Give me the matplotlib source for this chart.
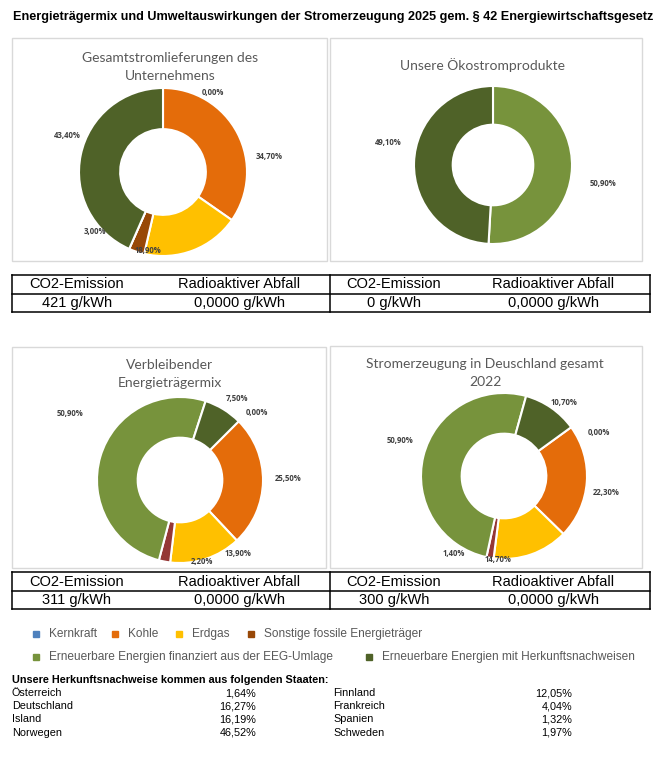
import matplotlib
matplotlib.use("Agg")
import matplotlib.pyplot as plt
from matplotlib.patches import Rectangle

W, H = 663, 757

# --- data ---
categories = ["Kernkraft", "Kohle", "Erdgas", "Sonstige fossile Energieträger",
              "Erneuerbare Energien finanziert aus der EEG-Umlage",
              "Erneuerbare Energien mit Herkunftsnachweisen"]
colors = ["#4F81BD", "#E46C0A", "#FFC000", "#984807", "#77933C", "#4F6228"]

chart_titles = ["Gesamtstromlieferungen des\nUnternehmens",
                "Unsere Ökostromprodukte",
                "Verbleibender\nEnergieträgermix",
                "Stromerzeugung in Deuschland gesamt\n2022"]
mix_unternehmen = [0.00, 34.70, 18.90, 3.00, 0.00, 43.40]
mix_oeko = [0.00, 0.00, 0.00, 0.00, 50.90, 49.10]
mix_verbleibend = [0.00, 25.50, 13.90, 2.20, 50.90, 7.50]
mix_deutschland = [0.00, 22.30, 14.70, 1.40, 50.90, 10.70]

co2_emission = ["421 g/kWh", "0 g/kWh", "311 g/kWh", "300 g/kWh"]
radioaktiv = ["0,0000 g/kWh", "0,0000 g/kWh", "0,0000 g/kWh", "0,0000 g/kWh"]

hkn_countries_1 = ["Österreich", "Deutschland", "Island", "Norwegen"]
hkn_shares_1 = ["1,64%", "16,27%", "16,19%", "46,52%"]
hkn_countries_2 = ["Finnland", "Frankreich", "Spanien", "Schweden"]
hkn_shares_2 = ["12,05%", "4,04%", "1,32%", "1,97%"]

# --- layout (pixels) ---
fig = plt.figure(figsize=(W / 100, H / 100), dpi=100)
bg = fig.add_axes([0, 0, 1, 1])
bg.set_xlim(0, W)
bg.set_ylim(H, 0)
bg.axis("off")

arial = ["Liberation Sans", "DejaVu Sans"]
calibri = ["Lato", "DejaVu Sans"]
label_font = ["Open Sans", "DejaVu Sans"]

bg.text(13, 17, "Energieträgermix und Umweltauswirkungen der Stromerzeugung 2025 gem. § 42 Energiewirtschaftsgesetz",
        family=arial, fontsize=9.1, weight="bold", va="center", ha="left")

panels = [(12, 38, 315, 223), (330, 38, 312, 223), (12, 347, 314, 221), (330, 346, 312, 222)]
for x, y, w, h in panels:
    bg.add_patch(Rectangle((x, y), w, h, fill=False, ec="#D9D9D9", lw=1))

title_pos = [(170, 67), (483, 65), (170, 374), (485, 373)]
for (tx, ty), t in zip(title_pos, chart_titles):
    bg.text(tx, ty, t, family=calibri, fontsize=10, color="#595959",
            ha="center", va="center", linespacing=1.55)

# tables
for top in (275, 572):
    rows = [top, top + 18.5, top + 37]
    for ry in rows:
        bg.plot([12, 650], [ry, ry], color="black", lw=1.1)
    for vx in (12, 330, 650):
        bg.plot([vx, vx], [top, top + 37], color="black", lw=1.1)

col_x = [(77, 239), (394, 553)]
for i, top in enumerate((275, 572)):
    for j in range(2):
        k = i * 2 + j
        cx1, cx2 = col_x[j]
        bg.text(cx1, top + 9.5, "CO2-Emission", family=arial, fontsize=10.5, ha="center", va="center")
        bg.text(cx2, top + 9.5, "Radioaktiver Abfall", family=arial, fontsize=10.5, ha="center", va="center")
        bg.text(cx1, top + 28, co2_emission[k], family=arial, fontsize=10.5, ha="center", va="center")
        bg.text(cx2, top + 28, radioaktiv[k], family=arial, fontsize=10.5, ha="center", va="center")


def pct(v):
    return f"{v:.2f}".replace(".", ",") + "%"


def donut(cx, cy, R, values, start_from_top, label_pos, cols):
    ax = fig.add_axes([(cx - R) / W, 1 - (cy + R) / H, 2 * R / W, 2 * R / H])
    ax.pie(values, colors=cols, startangle=90 - start_from_top, counterclock=False,
           radius=1, wedgeprops=dict(width=0.49, edgecolor="white", linewidth=1.5))
    ax.set_xlim(-1, 1)
    ax.set_ylim(-1, 1)
    ax.axis("off")
    for v, p in zip(values, label_pos):
        if p is None:
            continue
        ax.text(p[0], p[1], pct(v), family=label_font, fontsize=5.6, weight="bold",
                color="#404040", ha="center", va="center", clip_on=False)


# label positions in units of the outer radius
lp1 = [(0.60, 0.95), (1.26, 0.18), (-0.18, -0.94), (-0.81, -0.71), None, (-1.14, 0.44)]
lp2 = [None, None, None, None, (1.39, -0.24), (-1.32, 0.29)]
lp3 = [(0.93, 0.81), (1.30, 0.02), (0.70, -0.88), (0.27, -0.98), (-1.33, 0.80), (0.69, 0.98)]
lp4 = [(1.14, 0.53), (1.23, -0.20), (-0.07, -1.01), (-0.60, -0.93), (-1.25, 0.43), (0.72, 0.88)]

cols_red = colors[:3] + ["#953735"] + colors[4:]
donut(163, 172, 84, mix_unternehmen, 0, lp1, colors)
donut(493, 165, 79, mix_oeko, 0, lp2, colors)
donut(180, 480, 83, mix_verbleibend, 45, lp3, cols_red)
donut(504, 476, 83, mix_deutschland, 54, lp4, cols_red)

# legend
legend_pos = [(36, 634), (115, 634), (179, 634), (251, 634), (36, 657), (369, 657)]
for (lx, ly), name, c in zip(legend_pos, categories, colors):
    bg.add_patch(Rectangle((lx - 3, ly - 3), 6, 6, color=c))
    bg.text(lx + 13, ly, name, family=arial, fontsize=8.6, color="#595959", ha="left", va="center")

# Herkunftsnachweise
bg.text(12, 680, "Unsere Herkunftsnachweise kommen aus folgenden Staaten:", family=arial,
        fontsize=7.8, weight="bold", ha="left", va="center")
for i in range(4):
    yy = 693 + i * 13.2
    bg.text(12, yy, hkn_countries_1[i], family=arial, fontsize=7.8, ha="left", va="center")
    bg.text(256, yy, hkn_shares_1[i], family=arial, fontsize=7.8, ha="right", va="center")
    bg.text(333, yy, hkn_countries_2[i], family=arial, fontsize=7.8, ha="left", va="center")
    bg.text(572, yy, hkn_shares_2[i], family=arial, fontsize=7.8, ha="right", va="center")

fig.savefig("out.png", dpi=100)
